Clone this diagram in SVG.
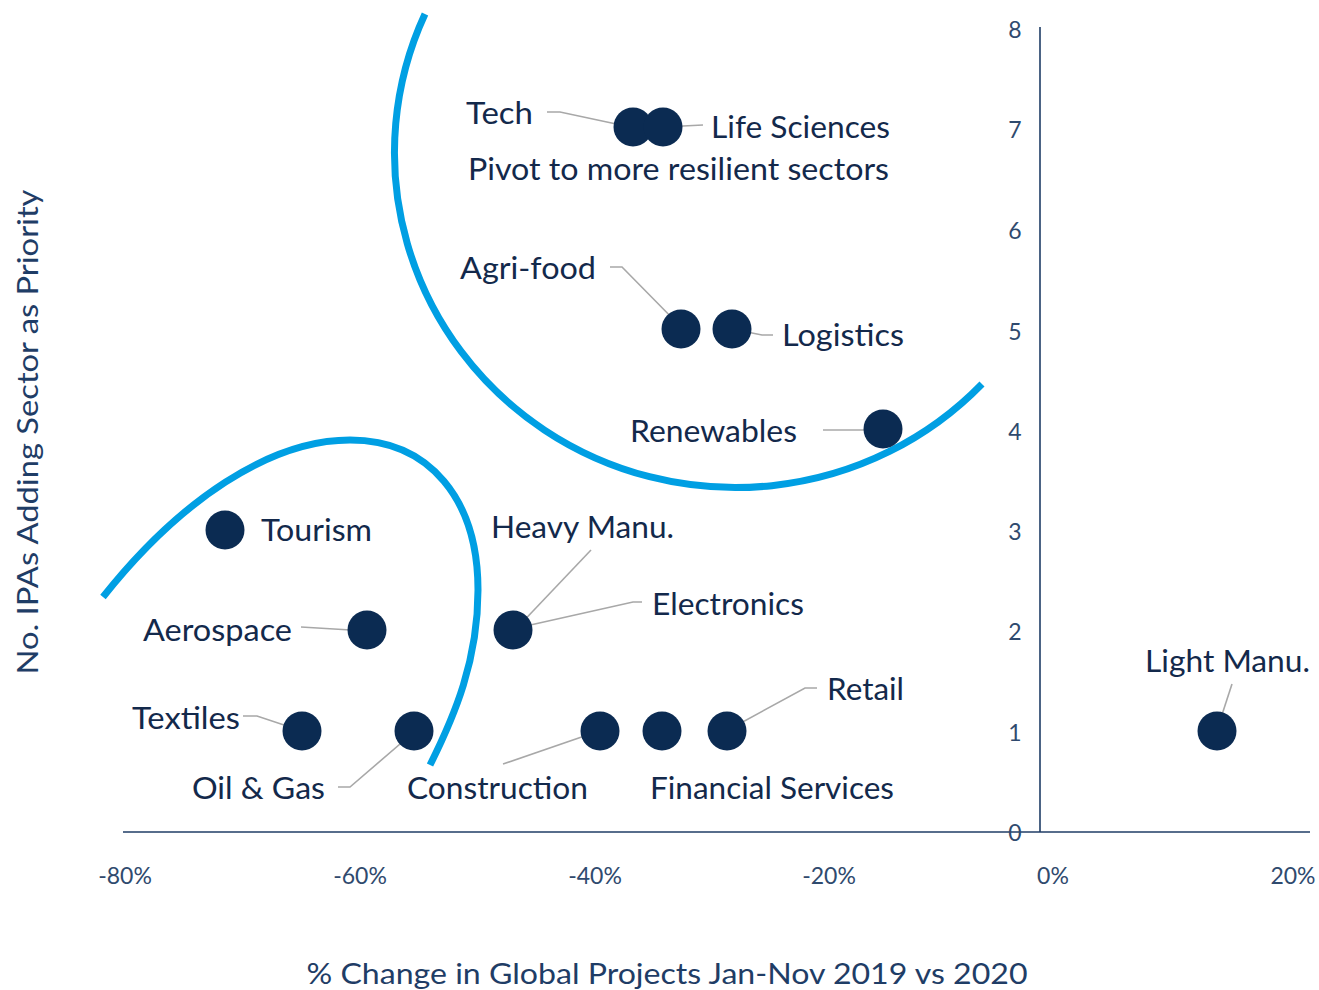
<svg xmlns="http://www.w3.org/2000/svg" width="1319" height="990" viewBox="0 0 1319 990">
<style>
.lbl{font-family:Lato,"Noto Sans","Liberation Sans",sans-serif;font-size:30px;fill:#13294b}
.tick{font-family:Lato,"Noto Sans","Liberation Sans",sans-serif;font-size:23px;fill:#2f4a6e;text-anchor:middle}
.title{font-family:Lato,"Noto Sans","Liberation Sans",sans-serif;font-size:29px;fill:#1f3d66;text-anchor:middle}
.dot{fill:#0b2b52}
.lead{fill:none;stroke:#a8a8a8;stroke-width:1.6}
.zone{fill:none;stroke:#009fe3;stroke-width:7}
.axis{stroke:#1f3d66;stroke-width:1.6}
</style>
<rect width="1319" height="990" fill="#ffffff"/>
<g id="zones">
<path class="zone" d="M425,14 A 341 335 0 0 0 982,384"/>
<path class="zone" d="M103,597 C 180,500 270,440 350,440 C 430,440 478,500 478,590 C 478,660 455,715 430,765"/>
</g>
<g id="axes">
<line class="axis" x1="123" y1="832" x2="1310" y2="832"/>
<line class="axis" x1="1040" y1="27" x2="1040" y2="832"/>
<text class="tick" x="1015" y="38">8</text>
<text class="tick" x="1015" y="138">7</text>
<text class="tick" x="1015" y="239">6</text>
<text class="tick" x="1015" y="340">5</text>
<text class="tick" x="1015" y="440">4</text>
<text class="tick" x="1015" y="540">3</text>
<text class="tick" x="1015" y="640">2</text>
<text class="tick" x="1015" y="741">1</text>
<text class="tick" x="1015" y="841">0</text>
<text class="tick" x="125" y="884">-80%</text>
<text class="tick" x="360" y="884">-60%</text>
<text class="tick" x="595" y="884">-40%</text>
<text class="tick" x="829" y="884">-20%</text>
<text class="tick" x="1053" y="884">0%</text>
<text class="tick" x="1293" y="884">20%</text>
<text class="title" x="667" y="984" textLength="721" lengthAdjust="spacingAndGlyphs">% Change in Global Projects Jan-Nov 2019 vs 2020</text>
<text class="title" transform="translate(38,432) rotate(-90)" textLength="485" lengthAdjust="spacingAndGlyphs">No. IPAs Adding Sector as Priority</text>
</g>
<g id="connectors">
<polyline class="lead" points="547,112 560,112 635,128"/>
<polyline class="lead" points="663,128 683,126 703,125"/>
<polyline class="lead" points="610,267 622,267 682,328"/>
<polyline class="lead" points="732,329 762,335 773,335"/>
<polyline class="lead" points="823,430 883,430"/>
<polyline class="lead" points="301,627 367,631"/>
<polyline class="lead" points="591,550 515,630"/>
<polyline class="lead" points="642,602 633,602 517,628"/>
<polyline class="lead" points="817,688 805,688 728,730"/>
<polyline class="lead" points="503,764 599,731"/>
<polyline class="lead" points="243,716 257,716 302,731"/>
<polyline class="lead" points="338,787 350,787 414,732"/>
<polyline class="lead" points="1232,684 1217,730"/>
</g>
<g id="tech"><circle class="dot" cx="633" cy="127" r="19.5"/><text class="lbl" x="466" y="124" textLength="67" lengthAdjust="spacingAndGlyphs">Tech</text></g>
<g id="life-sciences"><circle class="dot" cx="663" cy="127" r="19.5"/><text class="lbl" x="711" y="138" textLength="179" lengthAdjust="spacingAndGlyphs">Life Sciences</text></g>
<g id="pivot-label"><text class="lbl" x="468" y="180" textLength="421" lengthAdjust="spacingAndGlyphs">Pivot to more resilient sectors</text></g>
<g id="agri-food"><circle class="dot" cx="681" cy="329" r="19.5"/><text class="lbl" x="460" y="279" textLength="136" lengthAdjust="spacingAndGlyphs">Agri-food</text></g>
<g id="logistics"><circle class="dot" cx="732" cy="329" r="19.5"/><text class="lbl" x="782" y="346" textLength="122" lengthAdjust="spacingAndGlyphs">Logistics</text></g>
<g id="renewables"><circle class="dot" cx="883" cy="429" r="19.5"/><text class="lbl" x="630" y="442" textLength="167" lengthAdjust="spacingAndGlyphs">Renewables</text></g>
<g id="tourism"><circle class="dot" cx="225" cy="530" r="19.5"/><text class="lbl" x="261" y="541" textLength="111" lengthAdjust="spacingAndGlyphs">Tourism</text></g>
<g id="aerospace"><circle class="dot" cx="367" cy="630" r="19.5"/><text class="lbl" x="143" y="641" textLength="149" lengthAdjust="spacingAndGlyphs">Aerospace</text></g>
<g id="heavy-electronics"><circle class="dot" cx="513" cy="630" r="19.5"/><text class="lbl" x="491" y="538" textLength="183" lengthAdjust="spacingAndGlyphs">Heavy Manu.</text><text class="lbl" x="652" y="615" textLength="152" lengthAdjust="spacingAndGlyphs">Electronics</text></g>
<g id="textiles"><circle class="dot" cx="302" cy="731" r="19.5"/><text class="lbl" x="132" y="729" textLength="108" lengthAdjust="spacingAndGlyphs">Textiles</text></g>
<g id="oil-gas"><circle class="dot" cx="414" cy="731" r="19.5"/><text class="lbl" x="192" y="799" textLength="133" lengthAdjust="spacingAndGlyphs">Oil &amp; Gas</text></g>
<g id="construction"><circle class="dot" cx="600" cy="731" r="19.5"/><text class="lbl" x="407" y="799" textLength="181" lengthAdjust="spacingAndGlyphs">Construction</text></g>
<g id="financial-services"><circle class="dot" cx="662" cy="731" r="19.5"/><text class="lbl" x="650" y="799" textLength="244" lengthAdjust="spacingAndGlyphs">Financial Services</text></g>
<g id="retail"><circle class="dot" cx="727" cy="731" r="19.5"/><text class="lbl" x="827" y="700" textLength="77" lengthAdjust="spacingAndGlyphs">Retail</text></g>
<g id="light-manu"><circle class="dot" cx="1217" cy="731" r="19.5"/><text class="lbl" x="1145" y="672" textLength="165" lengthAdjust="spacingAndGlyphs">Light Manu.</text></g>
</svg>
